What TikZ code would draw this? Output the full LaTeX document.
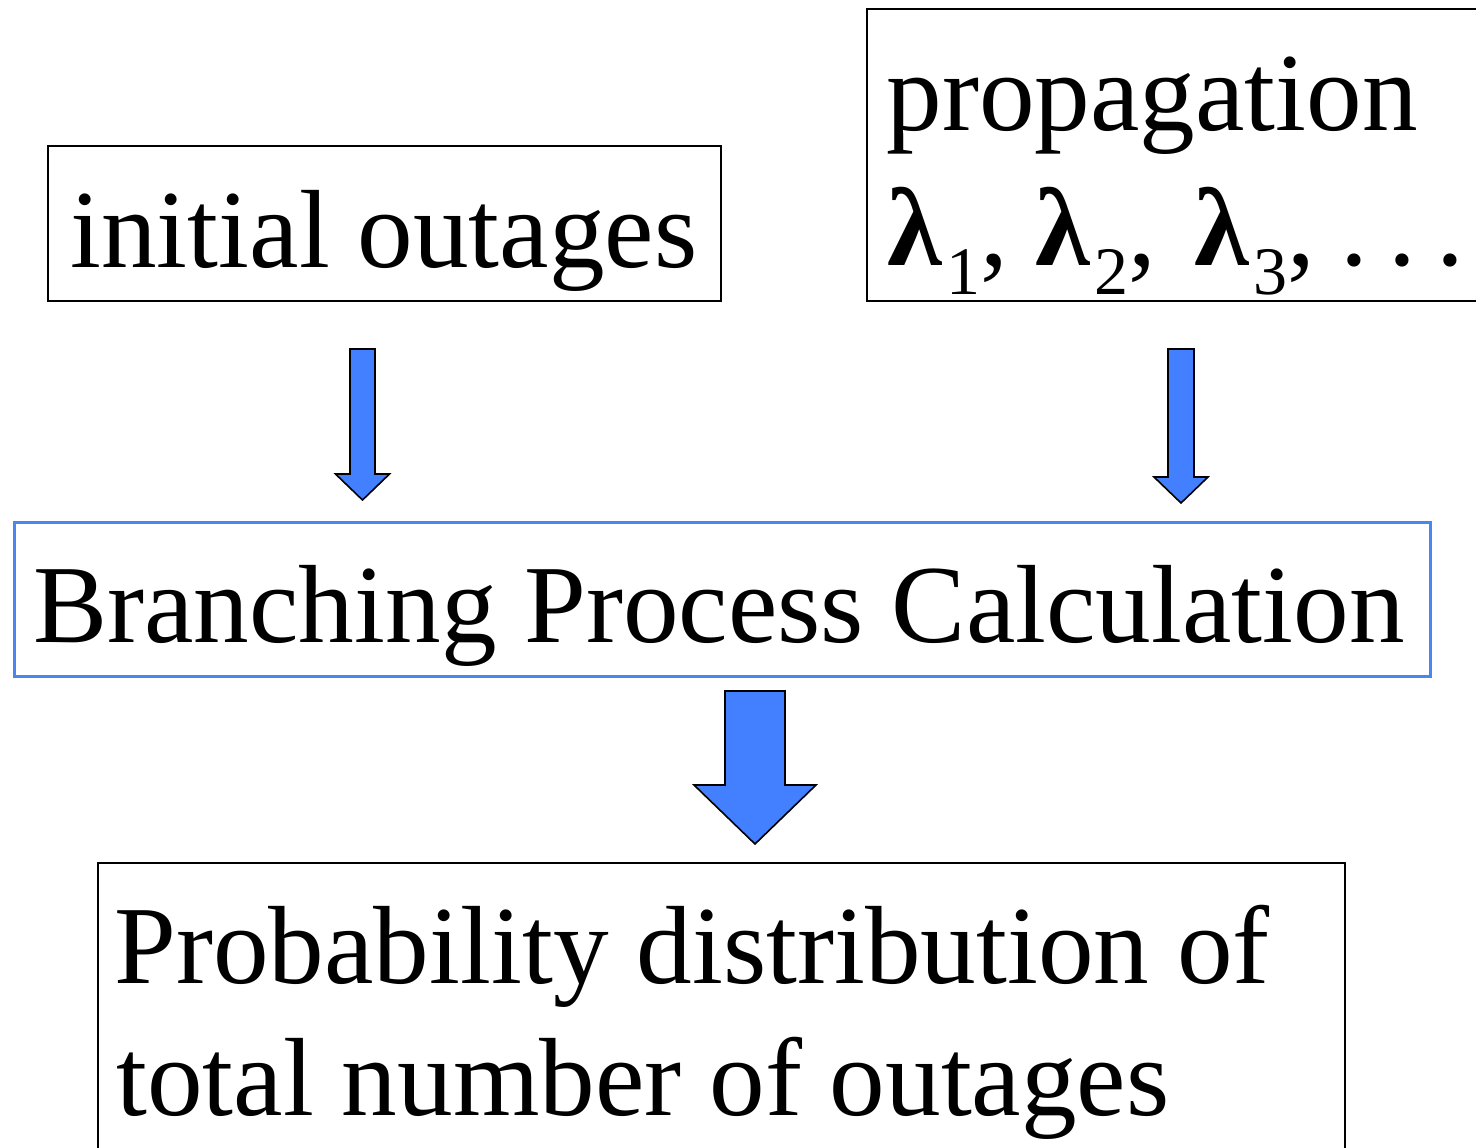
\documentclass[tikz,border=0pt]{standalone}
\usepackage{fontspec}
\setmainfont{Liberation Serif}
\definecolor{arrowblue}{RGB}{66,128,255}
\definecolor{boxblue}{RGB}{74,134,240}
\newcommand\lsub[1]{\raisebox{-14.5pt}{\fontsize{34}{34}\selectfont #1}}
\newcommand\lam{\textbf{λ}}
\newcommand\blkarrow[6]{%
  \filldraw[blockarrow] ({#1-#5},#2) -- ({#1+#5},#2) -- ({#1+#5},#3) -- ({#1+#6},#3)
    -- (#1,#4) -- ({#1-#6},#3) -- ({#1-#5},#3) -- cycle;}
\begin{document}
\begin{tikzpicture}[x=0.5pt,y=-0.5pt,
  box/.style={draw=black,line width=1pt,inner sep=0pt,anchor=north west},
  bluebox/.style={draw=boxblue,line width=1.3pt,inner sep=0pt,anchor=north west},
  label/.style={anchor=base west,inner sep=0pt,font=\fontsize{55.6}{66}\selectfont},
  blockarrow/.style={fill=arrowblue,draw=black,line width=0.8pt,line join=miter}]
\useasboundingbox (0,0) rectangle (1476,1147);
% boxes
\node[box,minimum width=336.5pt,minimum height=77.5pt] (initbox) at (47,145) {};
\node[box,minimum width=312pt,minimum height=146pt] (propbox) at (866,8) {};
\node[bluebox,minimum width=708pt,minimum height=77pt] (calcbox) at (13,521) {};
\node[box,minimum width=623.5pt,minimum height=160pt] (probbox) at (97,862) {};
% texts
\node[label] (inittext) at (70,267) {initial outages};
\node[label] (proptext) at (886,130) {propagation};
\node[label] (lamtext) at (887,265) {\lam\kern2pt\lsub{1}, \lam\kern2pt\lsub{2},\kern5pt\ \lam\kern2pt\lsub{3},\kern-1.5pt\ .\kern10.25pt.\kern10.25pt.};
\node[label] (calctext) at (33,642) {Branching Process Calculation};
\node[label] (probtext1) at (114,983) {Probability distribution of};
\node[label] (probtext2) at (116,1115) {total number of outages};
% block arrows
\blkarrow{362.5}{349}{474}{500}{12.5}{27}
\blkarrow{1181}{349}{477}{503}{13}{27}
\blkarrow{755}{691}{785}{844}{30}{61}
\end{tikzpicture}
\end{document}
